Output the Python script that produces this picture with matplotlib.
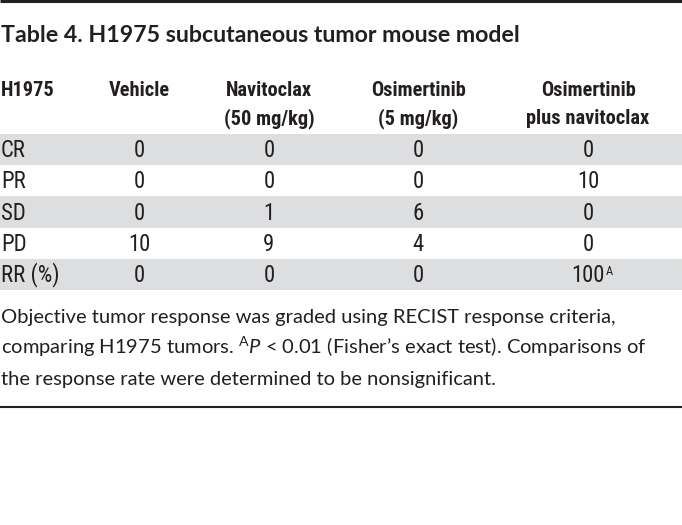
import matplotlib
matplotlib.use("Agg")
import matplotlib.pyplot as plt

# ---- table content -------------------------------------------------------
TITLE = "Table 4. H1975 subcutaneous tumor mouse model"
CORNER = "H1975"
GROUPS = [
    ("Vehicle", ""),
    ("Navitoclax", "(50 mg/kg)"),
    ("Osimertinib", "(5 mg/kg)"),
    ("Osimertinib", "plus navitoclax"),
]
ROW_LABELS = ["CR", "PR", "SD", "PD", "RR (%)"]
VEHICLE = ["0", "0", "0", "10", "0"]
NAVITOCLAX = ["0", "0", "1", "9", "0"]
OSIMERTINIB = ["0", "0", "6", "4", "0"]
COMBO = ["0", "10", "0", "0", "100"]
COMBO_MARKS = ["", "", "", "", "A"]
FOOTNOTE = [
    "Objective tumor response was graded using RECIST response criteria,",
    r"comparing H1975 tumors. $^{\mathrm{A}}\mathit{P}$ < 0.01 (Fisher’s exact test). Comparisons of",
    "the response rate were determined to be nonsignificant.",
]

# ---- layout (pixels) ------------------------------------------------------
W, H = 682, 525
INK = "#231f20"
GREY = "#dddedf"
COND = ["Liberation Sans Narrow", "Roboto Condensed", "DejaVu Sans Condensed", "Roboto"]
BODY = ["Lato", "DejaVu Sans"]
COL_X = [139, 269, 418, 588]
ROW_TOP = 134
ROW_H = 31.2

plt.rcParams["mathtext.fontset"] = "custom"
plt.rcParams["mathtext.rm"] = "Lato"
plt.rcParams["mathtext.it"] = "Lato:italic"

fig = plt.figure(figsize=(W / 100, H / 100), dpi=100)
ax = fig.add_axes([0, 0, 1, 1])
ax.set_xlim(0, W)
ax.set_ylim(H, 0)
ax.axis("off")
renderer = fig.canvas.get_renderer()


def fit_size(text, family, weight, target_px, base=12.0):
    t = ax.text(0, 0, text, fontsize=base, family=family, weight=weight)
    w = t.get_window_extent(renderer).width
    t.remove()
    return base * target_px / w


title_fs = fit_size(TITLE, BODY, "bold", 516)
head_fs = fit_size("Osimertinib", COND, "bold", 95)
cell_fs = head_fs * 1.12
foot_fs = fit_size(FOOTNOTE[0], BODY, "normal", 612)

# rules
ax.plot([0, W], [1.2, 1.2], color=INK, lw=2.2, solid_capstyle="butt")
ax.plot([0, W], [407, 407], color=INK, lw=1.5, solid_capstyle="butt")

ax.text(1, 42, TITLE, fontsize=title_fs, family=BODY, weight="bold", color=INK, va="baseline")

# header
ax.text(1, 96, CORNER, fontsize=head_fs, family=COND, weight="bold", color=INK, va="baseline")
for x, (l1, l2) in zip(COL_X, GROUPS):
    ax.text(x, 96, l1, fontsize=head_fs, family=COND, weight="bold", color=INK, ha="center", va="baseline")
    if l2:
        ax.text(x, 124, l2, fontsize=head_fs, family=COND, weight="bold", color=INK, ha="center", va="baseline")

# body rows
columns = [VEHICLE, NAVITOCLAX, OSIMERTINIB, COMBO]
for i, label in enumerate(ROW_LABELS):
    top = ROW_TOP + i * ROW_H
    if i % 2 == 0:
        ax.axhspan(top, top + ROW_H, color=GREY, lw=0)
    base = top + ROW_H / 2 + 7.5
    ax.text(1, base, label, fontsize=cell_fs, family=COND, color=INK, va="baseline")
    for x, col in zip(COL_X, columns):
        ax.text(x, base, col[i], fontsize=cell_fs, family=COND, color=INK, ha="center", va="baseline")
    mark = COMBO_MARKS[i]
    if mark:
        t = ax.texts[-1]
        ext = t.get_window_extent(renderer)
        x_right = ax.transData.inverted().transform((ext.x1, ext.y0))[0]
        ax.text(x_right + 1, base - 7, mark, fontsize=cell_fs * 0.55, family=COND, color=INK, va="baseline")

# footnote
for j, line in enumerate(FOOTNOTE):
    ax.text(1, 323 + j * 31, line, fontsize=foot_fs, family=BODY, color=INK, va="baseline")

fig.savefig("out.png", dpi=100, facecolor="white")
